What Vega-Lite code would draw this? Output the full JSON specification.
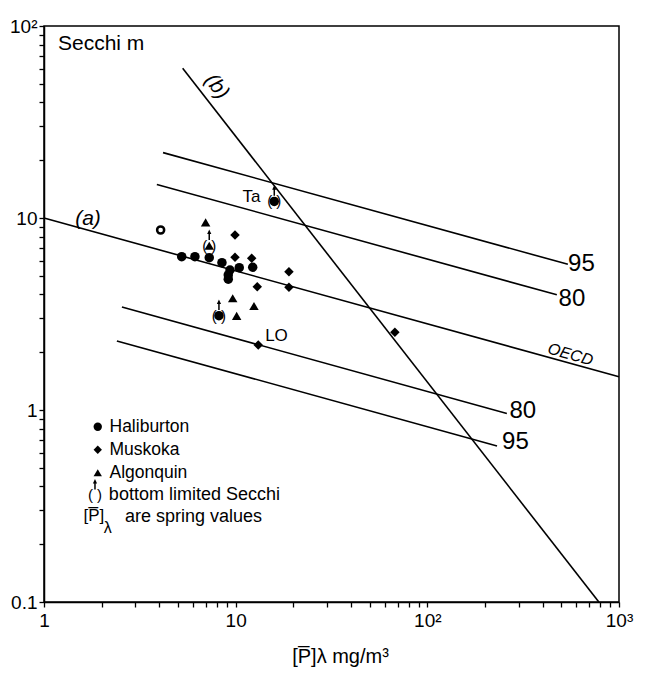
{
  "$schema": "https://vega.github.io/schema/vega-lite/v6.json",
  "width": 575,
  "height": 576,
  "autosize": {"type": "none"},
  "padding": {"left": 44, "top": 26, "right": 26, "bottom": 73},
  "background": "white",
  "config": {
    "view": {"stroke": "black", "strokeWidth": 1.5},
    "font": "Liberation Sans",
    "axis": {
      "grid": false,
      "domainColor": "black",
      "domainWidth": 1.5,
      "tickColor": "black",
      "tickWidth": 1.3,
      "tickSize": 5,
      "labelColor": "black",
      "labelFont": "Liberation Sans",
      "labelFontSize": 19,
      "labelOverlap": false,
      "labelBound": false,
      "titleColor": "black",
      "titleFont": "Liberation Sans",
      "titleFontWeight": "normal"
    }
  },
  "datasets": {
    "lines": [
      {"id": "a", "x": 1, "y": 10}, {"id": "a", "x": 1000, "y": 1.49},
      {"id": "u95", "x": 4.18, "y": 21.9}, {"id": "u95", "x": 541, "y": 5.74},
      {"id": "u80", "x": 3.88, "y": 14.96}, {"id": "u80", "x": 474, "y": 3.98},
      {"id": "l80", "x": 2.55, "y": 3.44}, {"id": "l80", "x": 260, "y": 0.96},
      {"id": "l95", "x": 2.4, "y": 2.29}, {"id": "l95", "x": 231, "y": 0.65},
      {"id": "b", "x": 5.29, "y": 60.2}, {"id": "b", "x": 785, "y": 0.1}
    ],
    "points": [
      {"lake": "Haliburton", "x": 5.23, "y": 6.29},
      {"lake": "Haliburton", "x": 6.13, "y": 6.29},
      {"lake": "Haliburton", "x": 7.28, "y": 6.21},
      {"lake": "Haliburton", "x": 8.48, "y": 5.85},
      {"lake": "Haliburton", "x": 12.27, "y": 5.54},
      {"lake": "Haliburton", "x": 9.34, "y": 5.36},
      {"lake": "Haliburton", "x": 10.44, "y": 5.51},
      {"lake": "Haliburton", "x": 9.15, "y": 5.05},
      {"lake": "Haliburton", "x": 9.15, "y": 4.8},
      {"lake": "Haliburton", "x": 8.18, "y": 3.1},
      {"lake": "Haliburton", "x": 15.9, "y": 12.2},
      {"lake": "Muskoka", "x": 9.92, "y": 8.16},
      {"lake": "Muskoka", "x": 9.92, "y": 6.24},
      {"lake": "Muskoka", "x": 12.12, "y": 6.17},
      {"lake": "Muskoka", "x": 18.97, "y": 5.25},
      {"lake": "Muskoka", "x": 12.96, "y": 4.39},
      {"lake": "Muskoka", "x": 18.97, "y": 4.36},
      {"lake": "Muskoka", "x": 13.12, "y": 2.18},
      {"lake": "Muskoka", "x": 67.7, "y": 2.54},
      {"lake": "Algonquin", "x": 6.97, "y": 9.5},
      {"lake": "Algonquin", "x": 7.28, "y": 7.17},
      {"lake": "Algonquin", "x": 9.65, "y": 3.82},
      {"lake": "Algonquin", "x": 12.46, "y": 3.48},
      {"lake": "Algonquin", "x": 10.12, "y": 3.09}
    ],
    "open": [{"x": 4.06, "y": 8.66}],
    "bottomLimited": [
      {"x": 15.9, "y": 12.2},
      {"x": 7.28, "y": 7.17},
      {"x": 8.18, "y": 3.1},
      {"x": 1.845, "y": 0.36}
    ],
    "lineLabels": [
      {"x": 637, "y": 5.76, "text": "95"},
      {"x": 568, "y": 3.78, "text": "80"},
      {"x": 315, "y": 0.988, "text": "80"},
      {"x": 288, "y": 0.681, "text": "95"}
    ]
  },
  "encoding": {
    "x": {
      "field": "x", "type": "quantitative",
      "scale": {"type": "log", "domain": [1, 1000], "nice": false},
      "axis": {
        "values": [1,2,3,4,5,6,7,8,9,10,20,30,40,50,60,70,80,90,100,200,300,400,500,600,700,800,900,1000],
        "labelExpr": "datum.value == 1000 ? '10³' : datum.value == 100 ? '10²' : datum.value == 10 ? '10' : datum.value == 1 ? '1' : ''",
        "labelFlush": false,
        "labelPadding": 4,
        "title": "[P̅]λ  mg/m³",
        "titleFontSize": 20,
        "titleX": 296,
        "titleY": 60,
        "titleBaseline": "alphabetic"
      }
    },
    "y": {
      "field": "y", "type": "quantitative",
      "scale": {"type": "log", "domain": [0.1, 100], "nice": false},
      "axis": {
        "values": [0.1,0.2,0.3,0.4,0.5,0.6,0.7,0.8,0.9,1,2,3,4,5,6,7,8,9,10,20,30,40,50,60,70,80,90,100],
        "labelExpr": "datum.value == 100 ? '10²' : datum.value == 10 ? '10' : datum.value == 1 ? '1' : datum.value == 0.1 ? '0.1' : ''",
        "labelPadding": 2,
        "title": null
      }
    }
  },
  "layer": [
    {
      "data": {"name": "lines"},
      "mark": {"type": "line", "color": "black", "strokeWidth": 1.6},
      "encoding": {"detail": {"field": "id"}}
    },
    {
      "data": {"name": "points"},
      "mark": {"type": "point", "filled": true, "color": "black", "opacity": 1, "size": 90},
      "encoding": {
        "shape": {
          "field": "lake", "type": "nominal",
          "scale": {"domain": ["Haliburton", "Muskoka", "Algonquin"], "range": ["circle", "diamond", "triangle-up"]},
          "legend": {
            "orient": "none", "legendX": 45, "legendY": 392, "title": null,
            "padding": 0, "labelFontSize": 17.5, "labelFont": "Liberation Sans", "labelColor": "black",
            "symbolSize": 70, "symbolFillColor": "black", "symbolStrokeColor": "black",
            "labelOffset": 3, "rowPadding": 4
          }
        }
      }
    },
    {
      "data": {"name": "open"},
      "mark": {"type": "point", "shape": "circle", "filled": false, "color": "black", "strokeWidth": 2.5, "size": 50, "opacity": 1}
    },
    {
      "data": {"name": "bottomLimited"},
      "mark": {"type": "text", "text": "( )", "fontSize": 15, "font": "Liberation Sans", "color": "black", "baseline": "middle", "align": "center"}
    },
    {
      "data": {"name": "bottomLimited"},
      "mark": {"type": "point", "shape": "arrow", "filled": true, "color": "black", "opacity": 1, "size": 110, "yOffset": -11}
    },
    {
      "data": {"name": "lineLabels"},
      "mark": {"type": "text", "fontSize": 24, "font": "Liberation Sans", "color": "black", "baseline": "middle", "align": "center"},
      "encoding": {"text": {"field": "text"}}
    },
    {
      "data": {"values": [{"x": 1.696, "y": 9.88, "text": "(a)"}]},
      "mark": {"type": "text", "fontSize": 21, "fontStyle": "italic", "font": "Liberation Sans", "color": "black", "baseline": "middle", "align": "center"},
      "encoding": {"text": {"field": "text"}}
    },
    {
      "data": {"values": [{"x": 7.96, "y": 48.3, "text": "(b)"}]},
      "mark": {"type": "text", "fontSize": 21, "fontStyle": "italic", "angle": 52, "font": "Liberation Sans", "color": "black", "baseline": "middle", "align": "center"},
      "encoding": {"text": {"field": "text"}}
    },
    {
      "data": {"values": [{"x": 558, "y": 1.945, "text": "OECD"}]},
      "mark": {"type": "text", "fontSize": 16, "fontStyle": "italic", "angle": 16, "font": "Liberation Sans", "color": "black", "baseline": "middle", "align": "center"},
      "encoding": {"text": {"field": "text"}}
    },
    {
      "data": {"values": [{"x": 12.09, "y": 12.94, "text": "Ta"}, {"x": 16.33, "y": 2.43, "text": "LO"}]},
      "mark": {"type": "text", "fontSize": 17, "font": "Liberation Sans", "color": "black", "baseline": "middle", "align": "center"},
      "encoding": {"text": {"field": "text"}}
    },
    {
      "data": {"values": [{"x": 1.183, "y": 75, "text": "Secchi  m"}]},
      "mark": {"type": "text", "fontSize": 21, "font": "Liberation Sans", "color": "black", "baseline": "alphabetic", "align": "left"},
      "encoding": {"text": {"field": "text"}}
    },
    {
      "data": {"values": [{"x": 2.18, "y": 0.36, "text": "bottom limited Secchi"}, {"x": 2.646, "y": 0.2773, "text": "are spring values"}]},
      "mark": {"type": "text", "fontSize": 18, "font": "Liberation Sans", "color": "black", "baseline": "middle", "align": "left"},
      "encoding": {"text": {"field": "text"}}
    },
    {
      "data": {"values": [{"x": 1.82, "y": 0.2805, "text": "[P̅]"}]},
      "mark": {"type": "text", "fontSize": 17, "font": "Liberation Sans", "color": "black", "baseline": "middle", "align": "center"},
      "encoding": {"text": {"field": "text"}}
    },
    {
      "data": {"values": [{"x": 2.15, "y": 0.2428, "text": "λ"}]},
      "mark": {"type": "text", "fontSize": 16, "font": "Liberation Sans", "color": "black", "baseline": "middle", "align": "center"},
      "encoding": {"text": {"field": "text"}}
    }
  ]
}
